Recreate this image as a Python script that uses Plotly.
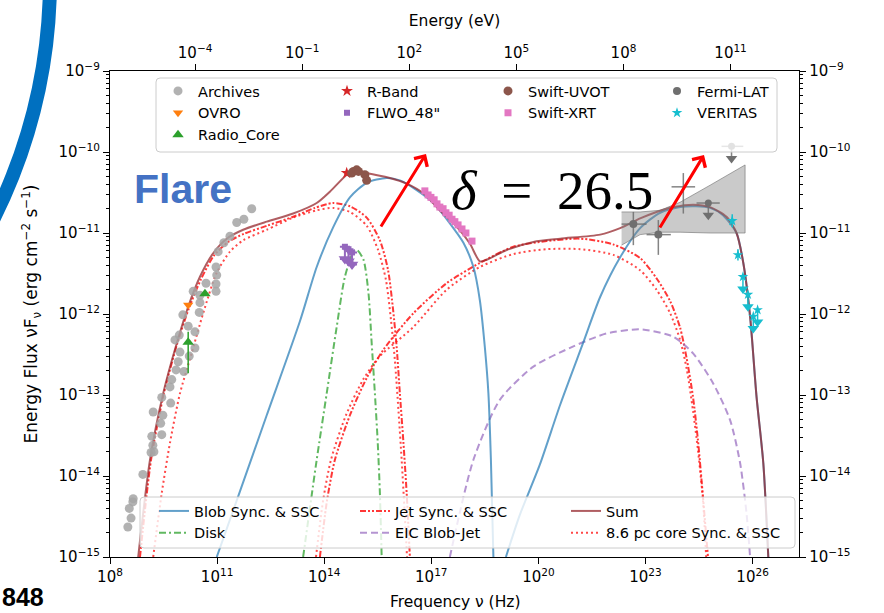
import numpy as np
import plotly.graph_objects as go

# ---------------- model components: log10(nu/Hz), log10(nuFnu / erg cm^-2 s^-1) ----------------
blob_sync_lognu = [10.99, 11.64, 12.39, 13.32, 13.79, 14.25, 14.72, 15.19, 15.75, 16.12, 16.59, 17.06,
                   17.52, 17.90, 18.18, 18.36, 18.50, 18.60, 18.67, 18.74]
blob_sync_logf = [-15.00, -14.19, -13.25, -12.09, -11.42, -10.93, -10.56, -10.38, -10.32, -10.35, -10.47,
                  -10.63, -10.88, -11.12, -11.42, -11.83, -12.41, -12.98, -13.80, -15.00]
blob_ssc_lognu = [19.09, 19.48, 20.04, 20.61, 21.25, 21.73, 22.29, 22.85, 23.41, 23.97, 24.41, 24.81,
                  25.17, 25.55, 25.74, 25.93, 26.11, 26.30, 26.44]
blob_ssc_logf = [-15.00, -14.48, -13.86, -13.12, -12.36, -11.79, -11.30, -10.94, -10.75, -10.68, -10.67,
                 -10.69, -10.78, -11.00, -11.37, -12.03, -13.02, -13.84, -15.00]

disk_lognu = [13.41, 13.79, 14.07, 14.35, 14.58, 14.82, 14.92, 15.10, 15.24, 15.33, 15.42, 15.50, 15.56, 15.61]
disk_logf = [-15.00, -13.80, -12.98, -12.16, -11.54, -11.23, -11.21, -11.33, -11.74, -12.36, -12.98, -13.59,
             -14.21, -15.00]

jet_sync_lognu = [8.84, 9.15, 9.51, 9.88, 10.21, 10.55, 10.91, 11.31, 11.75, 12.40, 13.13, 13.74, 14.25,
                  14.72, 15.19, 15.56, 15.79, 15.93, 16.03, 16.12, 16.22, 16.31, 16.40]
jet_sync_logf = [-15.00, -13.80, -12.98, -12.37, -11.93, -11.57, -11.28, -11.11, -11.01, -10.91, -10.80,
                 -10.69, -10.63, -10.67, -10.81, -11.09, -11.46, -11.95, -12.41, -12.98, -13.59, -14.21, -15.00]
jet_ssc_lognu = [13.88, 14.08, 14.30, 14.72, 15.19, 15.66, 16.50, 17.43, 18.36, 19.30, 20.23, 21.17, 22.09,
                 22.85, 23.31, 23.69, 23.97, 24.15, 24.33, 24.47, 24.61, 24.75]
jet_ssc_logf = [-15.00, -14.30, -13.80, -13.25, -12.79, -12.44, -11.99, -11.62, -11.37, -11.17, -11.10,
                -11.07, -11.14, -11.31, -11.56, -11.84, -12.17, -12.54, -13.02, -13.56, -14.26, -15.00]

eic_lognu = [17.52, 18.18, 18.92, 19.86, 20.98, 21.91, 22.85, 23.78, 24.34, 24.90, 25.37, 25.65, 25.83, 25.93]
eic_logf = [-15.00, -13.80, -13.06, -12.65, -12.40, -12.24, -12.19, -12.28, -12.49, -12.86, -13.31, -13.84,
            -14.46, -15.00]

core_sync_lognu = [9.21, 9.45, 9.68, 9.96, 10.29, 10.61, 10.99, 11.36, 11.73, 12.39, 13.13, 13.79, 14.26,
                   14.72, 15.19, 15.51, 15.73, 15.87, 15.98, 16.08, 16.17, 16.25, 16.32]
core_sync_logf = [-15.00, -14.21, -13.59, -12.98, -12.48, -11.99, -11.49, -11.23, -11.09, -10.96, -10.81,
                  -10.72, -10.69, -10.74, -10.91, -11.21, -11.58, -12.07, -12.57, -13.19, -13.80, -14.42, -15.00]
core_ssc_lognu = [13.77, 13.97, 14.19, 14.61, 15.09, 15.56, 16.50, 17.43, 18.36, 19.30, 20.23, 21.17, 22.10,
                  22.85, 23.31, 23.69, 23.97, 24.16, 24.33, 24.47, 24.61, 24.70]
core_ssc_logf = [-15.00, -14.30, -13.80, -13.25, -12.81, -12.52, -12.16, -11.70, -11.42, -11.26, -11.20,
                 -11.20, -11.27, -11.46, -11.70, -11.99, -12.32, -12.69, -13.19, -13.68, -14.30, -15.00]

sum_lognu = [8.79, 9.12, 9.49, 9.87, 10.19, 10.52, 10.89, 11.27, 11.73, 12.39, 13.13, 13.79, 14.16, 14.63,
             14.86, 15.19, 15.84, 16.31, 16.78, 17.24, 17.71, 18.08, 18.36, 18.55, 19.11, 19.86, 20.61, 21.73,
             22.29, 22.85, 23.31, 23.78, 24.34, 24.81, 25.27, 25.55, 25.74, 25.93, 26.11, 26.30, 26.44]
sum_logf = [-15.00, -13.80, -12.98, -12.36, -11.91, -11.54, -11.25, -11.07, -10.96, -10.86, -10.76, -10.63,
            -10.49, -10.28, -10.22, -10.26, -10.32, -10.39, -10.51, -10.72, -10.92, -11.13, -11.35, -11.33,
            -11.21, -11.11, -11.07, -11.02, -10.94, -10.82, -10.74, -10.68, -10.65, -10.68, -10.80, -11.00,
            -11.37, -12.03, -13.02, -13.84, -15.00]

# ---------------- observations ----------------
arch_lognu = [11.97, 11.75, 11.55, 11.36, 11.19, 11.03, 10.97, 10.99, 10.97, 10.97, 10.69, 10.52, 10.52,
              10.50, 10.33, 10.04, 10.19, 10.38, 9.94, 9.82, 10.38, 10.22, 9.96, 9.91, 9.85, 10.07, 9.73,
              9.68, 9.45, 9.70, 9.21, 9.48, 9.42, 9.17, 9.45, 9.20, 9.23, 9.15, 8.92, 8.65, 8.64, 8.54,
              8.59, 8.50]
arch_logf = [-10.70, -10.83, -10.87, -11.04, -11.12, -11.23, -11.42, -11.52, -11.63, -11.72, -11.62, -11.77,
             -11.86, -11.98, -11.72, -12.01, -12.15, -12.22, -12.26, -12.32, -12.42, -12.52, -12.47, -12.59,
             -12.69, -12.71, -12.81, -12.90, -13.03, -13.10, -13.21, -13.25, -13.35, -13.51, -13.49, -13.62,
             -13.70, -13.71, -13.98, -14.28, -14.32, -14.40, -14.52, -14.63]

ovro_lognu = [10.19]
ovro_logf = [-11.89]

radio_core_lognu = [10.66, 10.19]
radio_core_logf = [-11.75, -12.35]
radio_core_dlo = [0.0, 0.38]
radio_core_dhi = [0.0, 0.13]

rband_lognu = [14.63]
rband_logf = [-10.26]

flwo_lognu = [14.58, 14.68, 14.78]
flwo_logf = [-11.17, -11.20, -11.24]

uvot_lognu = [14.77, 14.82, 14.91, 14.96, 15.14, 15.19]
uvot_logf = [-10.26, -10.24, -10.22, -10.24, -10.28, -10.35]

xrt_lognu = [16.82, 16.91, 16.99, 17.08, 17.16, 17.24, 17.33, 17.41, 17.50, 17.58, 17.66, 17.75, 17.86,
             17.97, 18.14]
xrt_logf = [-10.48, -10.53, -10.56, -10.59, -10.64, -10.68, -10.70, -10.75, -10.78, -10.83, -10.86, -10.90,
            -10.95, -11.00, -11.10]

fermi_lognu = [22.66, 23.36]
fermi_lognu_lo = [22.33, 23.03]
fermi_lognu_hi = [23.03, 23.71]
fermi_logf = [-10.89, -11.02]
fermi_logf_lo = [-11.15, -11.27]
fermi_logf_hi = [-10.74, -10.84]
# bin without a plotted marker (error cross only)
fermi_cross_lognu = [24.06]
fermi_cross_lognu_lo = [23.73]
fermi_cross_lognu_hi = [24.39]
fermi_cross_logf = [-10.43]
fermi_cross_logf_lo = [-10.76]
fermi_cross_logf_hi = [-10.26]
fermi_ul_lognu = [24.76, 25.41]
fermi_ul_lognu_lo = [24.43, 25.13]
fermi_ul_lognu_hi = [25.08, 25.74]
fermi_ul_logf = [-10.63, -9.93]

bowtie_lognu = [22.33, 22.85, 23.41, 23.97, 24.81, 25.79, 25.79, 24.81, 23.97, 23.41, 22.85, 22.33]
bowtie_logf = [-10.74, -10.74, -10.72, -10.62, -10.41, -10.16, -11.00, -11.00, -10.99, -10.99, -11.02, -11.15]

veritas_lognu = [25.43, 25.59]
veritas_logf = [-10.85, -11.27]
veritas_dlog = [0.08, 0.07]
veritas_ul_lognu = [25.73, 25.87, 26.02, 26.14]
veritas_ul_logf = [-11.54, -11.76, -12.03, -11.95]

UL_ARROW = 0.15  # length of upper-limit arrows, in dex

x_tick_exp = [8, 11, 14, 17, 20, 23, 26]
e_tick_exp = [-4, -1, 2, 5, 8, 11]
y_tick_exp = [-15, -14, -13, -12, -11, -10, -9]
LOG_H_EV = np.log10(4.135667696e-15)  # Planck constant in eV s
XMIN, XMAX = 8.0, 27.3

GREY = "#6f6f6f"
GREY_BAR = "rgba(110,110,110,0.85)"
PLOT_W, PLOT_H = 689.0, 486.0  # plot-area size in px (for paper-coordinate placement)


def p10(a):
    return 10.0 ** np.asarray(a, dtype=float)


def joined(a1, b1, a2, b2):
    """Two branches of one component in a single trace, separated by a gap."""
    return list(p10(a1)) + [None] + list(p10(a2)), list(p10(b1)) + [None] + list(p10(b2))


def err_pair(logv, loglo, loghi):
    v = p10(logv)
    return list(p10(loghi) - v), list(v - p10(loglo))


fig = go.Figure()


# ---------------- model curves (lower legend, three columns) ----------------
def model(x, y, name, color, dash, legend, rank, width=2.0):
    fig.add_trace(go.Scatter(
        x=x, y=y, mode="lines", name=name, legend=legend, legendrank=rank,
        line=dict(color=color, width=width, dash=dash, shape="spline", smoothing=0.7),
        connectgaps=False, hoverinfo="skip"))


bx, by = joined(blob_sync_lognu, blob_sync_logf, blob_ssc_lognu, blob_ssc_logf)
jx, jy = joined(jet_sync_lognu, jet_sync_logf, jet_ssc_lognu, jet_ssc_logf)
cx, cy = joined(core_sync_lognu, core_sync_logf, core_ssc_lognu, core_ssc_logf)

model(cx, cy, "8.6 pc core Sync. & SSC", "rgba(255,20,20,0.78)", "2px,3px", "legend7", 2)
model(jx, jy, "Jet Sync. & SSC", "rgba(255,20,20,0.85)", "6px,2px,2px,2px,2px,2px", "legend6", 1)
model(p10(disk_lognu), p10(disk_logf), "Disk", "rgba(44,160,44,0.75)", "7px,3px,2px,3px", "legend5", 2)
model(p10(eic_lognu), p10(eic_logf), "EIC Blob-Jet", "rgba(148,103,189,0.7)", "7px,4px", "legend6", 2)
model(bx, by, "Blob Sync. & SSC", "rgba(31,119,180,0.7)", "solid", "legend5", 1)
model(p10(sum_lognu), p10(sum_logf), "Sum", "rgba(150,40,45,0.75)", "solid", "legend7", 1)

# ---------------- Fermi-LAT butterfly ----------------
fig.add_trace(go.Scatter(
    x=p10(bowtie_lognu), y=p10(bowtie_logf), mode="lines", fill="toself",
    fillcolor="rgba(128,128,128,0.42)", line=dict(color="rgba(110,110,110,0.6)", width=1),
    showlegend=False, hoverinfo="skip"))


# ---------------- observations (upper legend, four columns) ----------------
def upper_limit_arrows(lognu, logf, color, size=9):
    fig.add_trace(go.Scatter(
        x=p10(lognu), y=p10(np.asarray(logf) - UL_ARROW), mode="markers",
        marker=dict(symbol="triangle-down", size=size, color=color),
        showlegend=False, hoverinfo="skip"))


def ul_drop(logf):
    v = p10(logf)
    return list(v - p10(np.asarray(logf) - UL_ARROW))


fig.add_trace(go.Scatter(
    x=p10(arch_lognu), y=p10(arch_logf), mode="markers", name="Archives", legend="legend", legendrank=1,
    marker=dict(symbol="circle", size=9, color="rgba(165,165,165,0.85)")))

fig.add_trace(go.Scatter(
    x=p10(rband_lognu), y=p10(rband_logf), mode="markers", name="R-Band", legend="legend2", legendrank=1,
    marker=dict(symbol="star", size=9, color="#d62728")))

fig.add_trace(go.Scatter(
    x=p10(uvot_lognu), y=p10(uvot_logf), mode="markers", name="Swift-UVOT", legend="legend3", legendrank=1,
    marker=dict(symbol="circle", size=9, color="#8c564b")))

fx_hi, fx_lo = err_pair(fermi_lognu, fermi_lognu_lo, fermi_lognu_hi)
fy_hi, fy_lo = err_pair(fermi_logf, fermi_logf_lo, fermi_logf_hi)
fig.add_trace(go.Scatter(
    x=p10(fermi_lognu), y=p10(fermi_logf), mode="markers", name="Fermi-LAT", legend="legend4", legendrank=1,
    marker=dict(symbol="circle", size=8, color=GREY),
    error_x=dict(type="data", array=fx_hi, arrayminus=fx_lo, color=GREY_BAR, thickness=1.5, width=0),
    error_y=dict(type="data", array=fy_hi, arrayminus=fy_lo, color=GREY_BAR, thickness=1.5, width=0)))
cx_hi, cx_lo = err_pair(fermi_cross_lognu, fermi_cross_lognu_lo, fermi_cross_lognu_hi)
cy_hi, cy_lo = err_pair(fermi_cross_logf, fermi_cross_logf_lo, fermi_cross_logf_hi)
fig.add_trace(go.Scatter(
    x=p10(fermi_cross_lognu), y=p10(fermi_cross_logf), mode="markers", showlegend=False,
    marker=dict(symbol="circle", size=1, color=GREY),
    error_x=dict(type="data", array=cx_hi, arrayminus=cx_lo, color=GREY_BAR, thickness=1.5, width=0),
    error_y=dict(type="data", array=cy_hi, arrayminus=cy_lo, color=GREY_BAR, thickness=1.5, width=0)))
ux_hi, ux_lo = err_pair(fermi_ul_lognu, fermi_ul_lognu_lo, fermi_ul_lognu_hi)
fig.add_trace(go.Scatter(
    x=p10(fermi_ul_lognu), y=p10(fermi_ul_logf), mode="markers", showlegend=False,
    marker=dict(symbol="circle", size=7, color=GREY),
    error_x=dict(type="data", array=ux_hi, arrayminus=ux_lo, color=GREY_BAR, thickness=1.5, width=0),
    error_y=dict(type="data", array=[0, 0], arrayminus=ul_drop(fermi_ul_logf),
                 color=GREY_BAR, thickness=1.5, width=0)))
upper_limit_arrows(fermi_ul_lognu, fermi_ul_logf, GREY, 10)

fig.add_trace(go.Scatter(
    x=p10(ovro_lognu), y=p10(ovro_logf), mode="markers", name="OVRO", legend="legend", legendrank=2,
    marker=dict(symbol="triangle-down", size=9, color="#ff7f0e")))

fig.add_trace(go.Scatter(
    x=p10(flwo_lognu), y=p10(flwo_logf), mode="markers", name='FLWO_48"', legend="legend2", legendrank=2,
    marker=dict(symbol="square", size=6, color="#9467bd"),
    error_y=dict(type="data", array=[0] * len(flwo_logf), arrayminus=ul_drop(flwo_logf),
                 color="#9467bd", thickness=2, width=5)))
upper_limit_arrows(flwo_lognu, flwo_logf, "#9467bd", 11)

fig.add_trace(go.Scatter(
    x=p10(xrt_lognu), y=p10(xrt_logf), mode="markers", name="Swift-XRT", legend="legend3", legendrank=2,
    marker=dict(symbol="square", size=7, color="#e377c2"),
    error_x=dict(type="percent", value=6, color="#e377c2", thickness=3, width=0)))

vr_v = p10(veritas_logf)
fig.add_trace(go.Scatter(
    x=p10(veritas_lognu), y=vr_v, mode="markers", name="VERITAS", legend="legend4", legendrank=2,
    marker=dict(symbol="star", size=8, color="#17becf"),
    error_y=dict(type="data", array=list(p10(np.asarray(veritas_logf) + veritas_dlog) - vr_v),
                 arrayminus=list(vr_v - p10(np.asarray(veritas_logf) - veritas_dlog)),
                 color="#17becf", thickness=1.5, width=0)))
fig.add_trace(go.Scatter(
    x=p10(veritas_ul_lognu), y=p10(veritas_ul_logf), mode="markers", showlegend=False,
    marker=dict(symbol="star", size=8, color="#17becf"),
    error_y=dict(type="data", array=[0] * len(veritas_ul_logf), arrayminus=ul_drop(veritas_ul_logf),
                 color="#17becf", thickness=1.5, width=0)))
upper_limit_arrows(veritas_ul_lognu, veritas_ul_logf, "#17becf", 10)

rc_v = p10(radio_core_logf)
fig.add_trace(go.Scatter(
    x=p10(radio_core_lognu), y=rc_v, mode="markers", name="Radio_Core", legend="legend", legendrank=3,
    marker=dict(symbol="triangle-up", size=10, color="#2ca02c"),
    error_y=dict(type="data", array=list(p10(np.asarray(radio_core_logf) + radio_core_dhi) - rc_v),
                 arrayminus=list(rc_v - p10(np.asarray(radio_core_logf) - radio_core_dlo)),
                 color="#2ca02c", thickness=1.5, width=0)))

# helper trace so the mirrored energy / right flux axes are drawn
fig.add_trace(go.Scatter(x=[None], y=[None], xaxis="x2", yaxis="y2", showlegend=False, hoverinfo="skip"))


def pow_labels(exps):
    return [f"10<sup>{str(e).replace('-', '−')}</sup>" for e in exps]


def px_x(px):
    return (px - 110.0) / PLOT_W


def px_y(py):
    return (557.0 - py) / PLOT_H


def legend_column(px_left, py_edge, anchor):
    return dict(x=px_x(px_left), y=px_y(py_edge), xanchor="left", yanchor=anchor, orientation="v",
                traceorder="normal", bgcolor="rgba(0,0,0,0)", borderwidth=0, font=dict(size=14.5))


def rounded_frame(x0, x1, y0, y1, r=4.0):
    """Rounded legend frame given in px; returned as a paper-coordinate SVG path."""
    a0, a1, b0, b1 = px_x(x0), px_x(x1), px_y(y1), px_y(y0)
    rx, ry = r / PLOT_W, r / PLOT_H
    return (f"M{a0 + rx},{b0} L{a1 - rx},{b0} Q{a1},{b0} {a1},{b0 + ry} L{a1},{b1 - ry} "
            f"Q{a1},{b1} {a1 - rx},{b1} L{a0 + rx},{b1} Q{a0},{b1} {a0},{b1 - ry} "
            f"L{a0},{b0 + ry} Q{a0},{b0} {a0 + rx},{b0} Z")


axis_common = dict(type="log", showline=True, linecolor="black", linewidth=1.3, ticks="outside",
                   ticklen=6, tickwidth=1.2, tickcolor="black", showgrid=False, zeroline=False,
                   tickfont=dict(size=15, color="black"))
y_minor = dict(ticks="outside", ticklen=3, tickwidth=1, tickcolor="black", showgrid=False,
               tickmode="array",
               tickvals=[k * 10.0 ** e for e in range(-15, -9) for k in range(2, 10)])

fig.update_layout(
    width=884, height=613,
    margin=dict(l=110, r=85, t=71, b=56),
    plot_bgcolor="white", paper_bgcolor="white",
    font=dict(family="DejaVu Sans", size=15, color="black"),
    xaxis=dict(axis_common, range=[XMIN, XMAX], tickvals=list(p10(x_tick_exp)),
               ticktext=pow_labels(x_tick_exp)),
    xaxis2=dict(axis_common, overlaying="x", side="top", anchor="y",
                range=[XMIN + LOG_H_EV, XMAX + LOG_H_EV], tickvals=list(p10(e_tick_exp)),
                ticktext=pow_labels(e_tick_exp),
                title=dict(text="Energy (eV)", font=dict(size=15.5), standoff=11)),
    yaxis=dict(axis_common, range=[-15, -9], tickvals=list(p10(y_tick_exp)),
               ticktext=pow_labels(y_tick_exp), minor=y_minor,
               title=dict(text="Energy Flux νF<sub>ν</sub> (erg cm<sup>−2</sup> s<sup>−1</sup>)",
                          font=dict(size=17), standoff=16)),
    yaxis2=dict(axis_common, overlaying="y", side="right", anchor="x", range=[-15, -9],
                tickvals=list(p10(y_tick_exp)), ticktext=pow_labels(y_tick_exp), minor=y_minor),
    # upper legend: four columns
    legend=legend_column(158, 75, "top"),
    legend2=legend_column(327, 75, "top"),
    legend3=legend_column(488, 75, "top"),
    legend4=legend_column(657, 75, "top"),
    # lower legend: three columns
    legend5=legend_column(154, 549, "bottom"),
    legend6=legend_column(355, 549, "bottom"),
    legend7=legend_column(566, 549, "bottom"),
    showlegend=True,
)

# translucent frames behind the two legends
for fx0, fx1, fy0, fy1 in [(156, 777, 78, 152), (140, 795, 497, 548)]:
    fig.add_shape(type="path", xref="paper", yref="paper", path=rounded_frame(fx0, fx1, fy0, fy1),
                  line=dict(color="#cccccc", width=1), fillcolor="rgba(255,255,255,0.8)", layer="above")

# ---------------- text, arrows and decoration ----------------
fig.add_annotation(text="Frequency ν (Hz)", xref="paper", yref="paper", x=0.5, y=px_y(602),
                   xanchor="center", yanchor="middle", showarrow=False, font=dict(size=15.5))
fig.add_annotation(text="<b>Flare</b>", xref="paper", yref="paper", x=0.106, y=0.7566,
                   xanchor="center", yanchor="middle", showarrow=False,
                   font=dict(family="Liberation Sans", size=41, color="#4472C4"))
fig.add_annotation(text="<i>δ</i>\u2009 = \u200926.5", xref="paper", yref="paper", x=0.6418, y=0.755,
                   xanchor="center", yanchor="middle", showarrow=False,
                   font=dict(family="Liberation Serif", size=55, color="black"))
for hx, hy, tx, ty in [(426, 154, -46, 74), (704, 155, -45, 74)]:
    fig.add_annotation(text="", xref="paper", yref="paper", x=px_x(hx), y=px_y(hy), ax=tx, ay=ty,
                       showarrow=True, arrowhead=4, arrowsize=1.0, arrowwidth=3, arrowcolor="red")
fig.add_annotation(text="<b>848</b>", xref="paper", yref="paper", x=px_x(0), y=px_y(613),
                   xanchor="left", yanchor="bottom", showarrow=False,
                   font=dict(family="Liberation Sans", size=25, color="black"))
fig.add_shape(type="circle", xref="paper", yref="paper", x0=-1.634, x1=-0.0871, y0=0.0905, y1=2.284,
              line=dict(color="#0070C0", width=14), fillcolor="rgba(0,0,0,0)")

fig.write_html("out.html")
